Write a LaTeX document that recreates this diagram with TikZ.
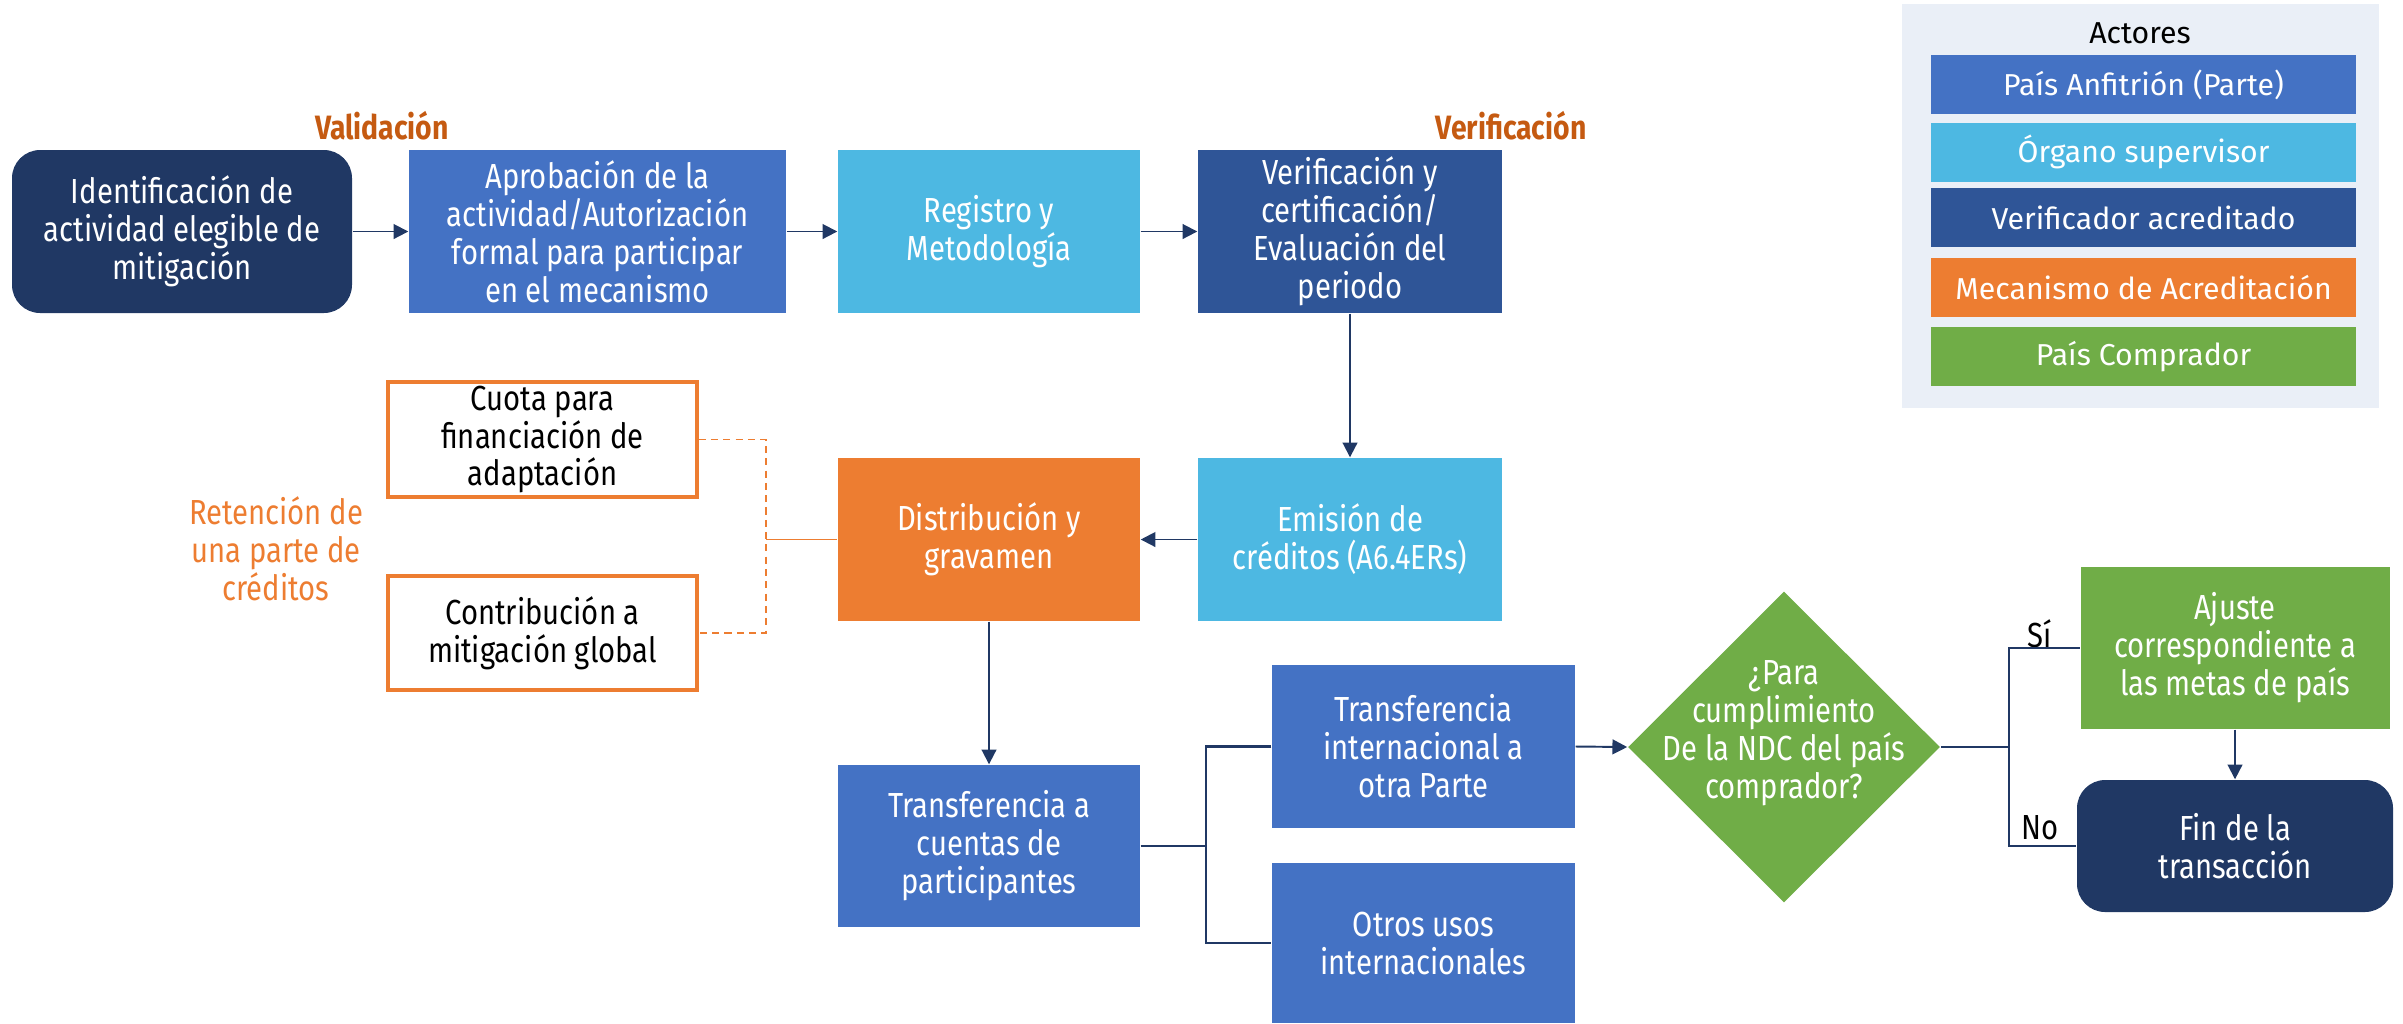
\documentclass[tikz,border=0pt]{standalone}
\usepackage{fontspec}
\setmainfont{Fira Sans}
\newfontfamily\nf[FakeStretch=0.84]{Fira Sans}
\usetikzlibrary{shapes.geometric,arrows.meta}
\definecolor{navy}{HTML}{203864}
\definecolor{mblue}{HTML}{4472C4}
\definecolor{lblue}{HTML}{4DB8E2}
\definecolor{vblue}{HTML}{2F5597}
\definecolor{orng}{HTML}{ED7D31}
\definecolor{grn}{HTML}{70AD47}
\definecolor{panel}{HTML}{EAEFF7}
\definecolor{dorng}{HTML}{C55A11}
\begin{document}
\begin{tikzpicture}[x=0.01cm,y=-0.01cm,
  wh/.style 2 args={minimum width={#1*0.01cm}, minimum height={#2*0.01cm}},
  box/.style={inner sep=0pt, align=center, text=white, font=\nf\fontsize{9.9}{10.8}\selectfont},
  obox/.style={box, text=black, draw=orng, line width=0.9pt, fill=white},
  legbar/.style={inner sep=0pt, text=white, font=\fontsize{8.6}{10}\selectfont, wh={425}{59}},
  lbl/.style={inner sep=0pt, align=center, font=\nf\fontsize{9.9}{10.8}\selectfont},
  phase/.style={inner sep=0pt, text=dorng, font=\nf\bfseries\fontsize{9.6}{10}\selectfont},
  conn/.style={draw=navy, line width=0.55pt, -{Triangle[length=4.2pt,width=4.2pt]}},
  plain/.style={draw=navy, line width=0.6pt},
]
\useasboundingbox (0,0) rectangle (2403,1023);

% legend
\node[fill=panel, inner sep=0pt, wh={477}{404}] (panel) at (2140.5,206) {};
\node[inner sep=0pt, font=\fontsize{8.6}{10}\selectfont] (act) at (2140,33) {Actores};
\node[legbar, fill=mblue] (l1) at (2143.5,84.5) {País Anfitrión (Parte)};
\node[legbar, fill=lblue] (l2) at (2143.5,152) {Órgano supervisor};
\node[legbar, fill=vblue] (l3) at (2143.5,217.5) {Verificador acreditado};
\node[legbar, fill=orng] (l4) at (2143.5,287.5) {Mecanismo de Acreditación};
\node[legbar, fill=grn] (l5) at (2143.5,356.5) {País Comprador};

% phase labels
\node[phase] (val) at (382,126) {Validación};
\node[phase] (vrf) at (1511,126) {Verificación};

% row 1
\node[box, fill=navy, rounded corners=8pt, wh={340}{163}] (idn) at (182,231.5) {Identificación de\\actividad elegible de\\mitigación};
\node[box, fill=mblue, wh={377}{163}] (apr) at (597.5,231.5) {Aprobación de la\\actividad/Autorización\\formal para participar\\en el mecanismo};
\node[box, fill=lblue, wh={302}{163}] (reg) at (989,231.5) {Registro y\\Metodología};
\node[box, fill=vblue, wh={304}{163}] (ver) at (1350,231.5) {Verificación y\\certificación/\\Evaluación del\\periodo};

% row 2
\node[obox, wh={309}{115}] (cuo) at (542.5,439.5) {Cuota para\\financiación de\\adaptación};
\node[obox, wh={309}{114}] (con) at (542.5,633) {Contribución a\\mitigación global};
\node[lbl, text=orng] (ret) at (276,549) {Retención de\\una parte de\\créditos};
\node[box, fill=orng, wh={302}{163}] (dis) at (989,539.5) {Distribución y\\gravamen};
\node[box, fill=lblue, wh={304}{163}] (emi) at (1350,539.5) {Emisión de\\créditos (A6.4ERs)};

% row 3
\node[box, fill=mblue, wh={302}{162}] (tcu) at (989,846) {Transferencia a\\cuentas de\\participantes};
\node[box, fill=mblue, wh={303}{163}] (tin) at (1423.5,746.5) {Transferencia\\internacional a\\otra Parte};
\node[box, fill=mblue, wh={303}{160}] (otr) at (1423.5,943) {Otros usos\\internacionales};
\node[diamond, fill=grn, inner sep=0pt, minimum width=3.12cm, minimum height=3.11cm] (dec) at (1784,747) {};
\node[box] (dect) at (1784,733) {¿Para\\cumplimiento\\De la NDC del país\\comprador?};
\node[box, fill=grn, wh={309}{162}] (aju) at (2235,648) {Ajuste\\correspondiente a\\las metas de país};
\node[box, fill=navy, rounded corners=8pt, wh={316}{132}] (fin) at (2235,846) {Fin de la\\transacción};
\node[lbl] (si) at (2040,634) {Sí};
\node[lbl] (no) at (2040,828) {No};

% connectors
\draw[conn] (idn.east) -- (apr.west);
\draw[conn] (apr.east) -- (reg.west);
\draw[conn] (reg.east) -- (ver.west);
\draw[conn] (ver.south) -- (emi.north);
\draw[conn] (emi.west) -- (dis.east);
\draw[conn] (dis.south) -- (tcu.north);
\coordinate (j1) at (1206,846);
\draw[plain, line width=0.8pt] (tcu.east) -- (j1);
\draw[plain] (tin.west) -| (j1) |- (otr.west);
\draw[conn] (tin.east) -- (dec.west);
\coordinate (j2) at (2009,747);
\draw[plain, line width=0.8pt] (dec.east) -- (j2);
\draw[plain] (aju.west) -| (j2) |- (fin.west);
\draw[conn] (aju.south) -- (fin.north);
\coordinate (j3) at (766,539.5);
\draw[orng, line width=0.5pt, dash pattern=on 2pt off 1.5pt] (cuo.east) -| (j3) |- (con.east);
\draw[orng, line width=0.5pt] (j3) -- (dis.west);
\end{tikzpicture}
\end{document}
